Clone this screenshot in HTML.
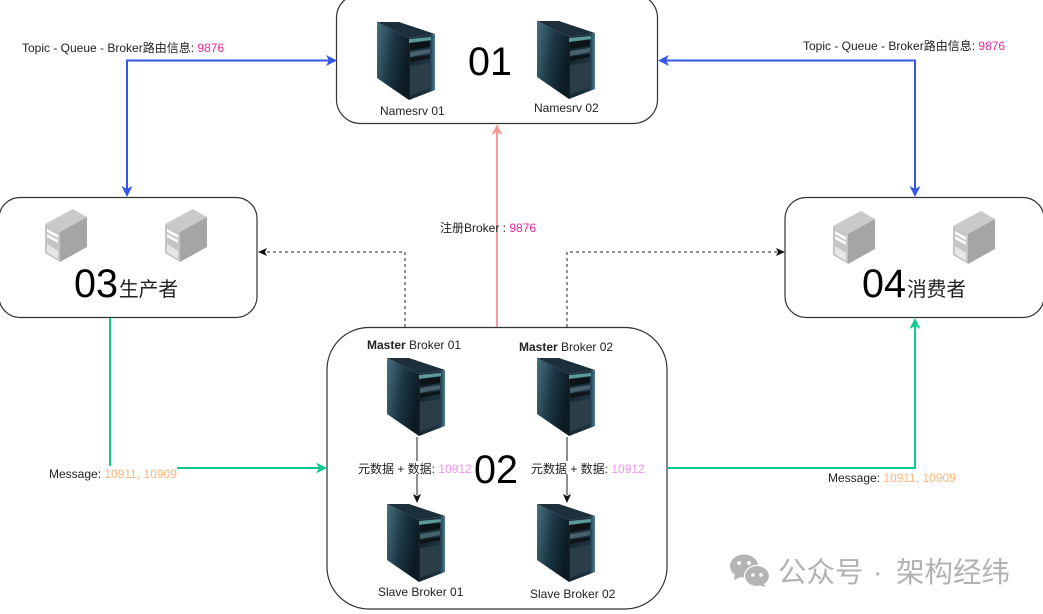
<!DOCTYPE html>
<html><head><meta charset="utf-8"><style>
html,body{margin:0;padding:0;background:#fff;width:1043px;height:614px;overflow:hidden}
svg{display:block;filter:blur(0.3px)}
text{font-family:"Liberation Sans","Noto Sans CJK SC",sans-serif;fill:#222}
.s{font-size:12px}
.big{font-size:39.500px;fill:#000}
.cn{font-size:19.700px}
.wm{font-size:28.500px;fill:#b2b2b2}
</style></head><body>
<svg width="1043" height="614" viewBox="0 0 1043 614" xmlns="http://www.w3.org/2000/svg">
<defs>
<linearGradient id="l" x1="0" y1="0" x2="1" y2="0.4"><stop offset="0" stop-color="#47707f"/><stop offset="0.55" stop-color="#1b3644"/><stop offset="1" stop-color="#0c1b23"/></linearGradient>
<linearGradient id="f" x1="0" y1="0" x2="1" y2="0"><stop offset="0" stop-color="#15262f"/><stop offset="0.8" stop-color="#1d3542"/><stop offset="1" stop-color="#4d7f92"/></linearGradient>
<g id="t">
<polygon points="0,0 22,0 58,12 32,16" fill="#1c2f3a"/>
<polygon points="0,0 32,16 32,78 0,56" fill="url(#l)"/>
<polygon points="32,16 58,12 58,68 32,78" fill="url(#f)"/>
<polygon points="32,17 54,15 54,18 32,21" fill="#5d9a9a"/>
<polygon points="33,21 53,19 53,25 33,28" fill="#0d1317"/>
<polygon points="33,30 53,27 53,31 33,35" fill="#48616c"/>
<polygon points="33,36 53,33 53,36 33,40" fill="#0d1317"/>
<polygon points="33,44 53,41 53,66 33,74" fill="#2b3d46"/>
</g>
<g id="g">
<polygon points="0,15 28,0 42,8 15,23" fill="#c9cbcb"/>
<polygon points="0,15 15,23 15,53 0,44" fill="#c4c6c6"/>
<polygon points="15,23 42,8 42,38 15,53" fill="#a3a5a6"/>
<polygon points="2,20 13,26 13,29 2,23" fill="#fff"/>
<polygon points="2,25 13,31 13,34 2,28" fill="#fff"/>
<polygon points="2,35 13,42 13,50 2,43" fill="#e6e7e7"/>
</g>
</defs>

<!-- boxes -->
<rect x="336.500" y="-6" width="321" height="129.500" rx="24" fill="#fff" stroke="#333" stroke-width="1.200"/>
<rect x="-1" y="197.500" width="258" height="120" rx="21" fill="#fff" stroke="#333" stroke-width="1.200"/>
<rect x="785" y="197.500" width="259" height="120" rx="21" fill="#fff" stroke="#333" stroke-width="1.200"/>
<rect x="327" y="327.500" width="340" height="281.500" rx="42" fill="#fff" stroke="#333" stroke-width="1.200"/>

<!-- connectors -->
<g fill="none" stroke-width="2">
<path d="M330 60.500H127V190" stroke="#3355e8"/>
<path d="M665 60.500H915V190" stroke="#3355e8"/>
<path d="M497 327V131" stroke="#f99a9a"/>
<path d="M110 318V466" stroke="#10c98f"/>
<path d="M177 468H320" stroke="#10c98f"/>
<path d="M667 468H915V325" stroke="#10c98f"/>
<path d="M417 437V461M417 474V495" stroke="#444" stroke-width="1.200"/>
<path d="M567 437V461M567 474V495" stroke="#444" stroke-width="1.200"/>
<path d="M405 327V252H265" stroke="#222" stroke-width="1" stroke-dasharray="3 3"/>
<path d="M567 327V252H778" stroke="#222" stroke-width="1" stroke-dasharray="3 3"/>
</g>
<!-- arrowheads -->
<polygon points="337,60.500 326,55 329,60.500 326,66" fill="#3355e8"/>
<polygon points="658,60.500 669,55 666,60.500 669,66" fill="#3355e8"/>
<polygon points="127,197 121.500,186 127,189 132.500,186" fill="#3355e8"/>
<polygon points="915,197 909.500,186 915,189 920.500,186" fill="#3355e8"/>
<polygon points="497,124 491.500,135 497,132 502.500,135" fill="#f99a9a"/>
<polygon points="327,468 316,462.500 319,468 316,473.500" fill="#10c98f"/>
<polygon points="915,318 909.500,329 915,326 920.500,329" fill="#10c98f"/>
<polygon points="258,252 267,248 265,252 267,256" fill="#111"/>
<polygon points="785,252 776,248 778,252 776,256" fill="#111"/>
<polygon points="417,503 413,494 417,496 421,494" fill="#111"/>
<polygon points="567,503 563,494 567,496 571,494" fill="#111"/>

<!-- servers -->
<use href="#t" x="377" y="22"/>
<use href="#t" x="537" y="21"/>
<use href="#t" x="387" y="358"/>
<use href="#t" x="537" y="358"/>
<use href="#t" x="387" y="504"/>
<use href="#t" x="537" y="504"/>
<use href="#g" x="45" y="209"/>
<use href="#g" x="165" y="209"/>
<use href="#g" x="833" y="211"/>
<use href="#g" x="953" y="211"/>

<!-- box titles -->
<text class="big" x="468" y="75">01</text>
<text class="big" x="474" y="483">02</text>
<text class="big" x="74" y="297">03</text>
<text class="cn" x="119" y="296">生产者</text>
<text class="big" x="862" y="297">04</text>
<text class="cn" x="907" y="296">消费者</text>

<!-- labels -->
<text class="s" x="380" y="115">Namesrv 01</text>
<text class="s" x="534" y="112">Namesrv 02</text>
<text class="s" x="367" y="349"><tspan font-weight="bold">Master</tspan> Broker 01</text>
<text class="s" x="519" y="351"><tspan font-weight="bold">Master</tspan> Broker 02</text>
<text class="s" x="378" y="596">Slave Broker 01</text>
<text class="s" x="530" y="598">Slave Broker 02</text>
<text class="s" x="358" y="473">元数据 + 数据: <tspan style="fill:#f38ff0">10912</tspan></text>
<text class="s" x="531" y="473">元数据 + 数据: <tspan style="fill:#f38ff0">10912</tspan></text>
<text class="s" x="22" y="52">Topic - Queue - Broker路由信息: <tspan style="fill:#f0289a">9876</tspan></text>
<text class="s" x="803" y="50">Topic - Queue - Broker路由信息: <tspan style="fill:#f0289a">9876</tspan></text>
<text class="s" x="440" y="232">注册Broker : <tspan style="fill:#f0289a">9876</tspan></text>
<text class="s" x="49" y="478">Message: <tspan style="fill:#fbb57c">10911, 10909</tspan></text>
<text class="s" x="828" y="482">Message: <tspan style="fill:#fbb57c">10911, 10909</tspan></text>

<!-- watermark -->
<g fill="#b4b4b4">
<ellipse cx="744" cy="566" rx="14" ry="11.500"/>
<polygon points="735,573 734,580 743,576"/>
<ellipse cx="757" cy="576" rx="12.500" ry="10.500" stroke="#fff" stroke-width="1.200"/>
<polygon points="763,583 766,587 758,585"/>
</g>
<g fill="#fff">
<circle cx="739" cy="563" r="2"/><circle cx="749" cy="563" r="2"/>
<circle cx="753" cy="575" r="1.700"/><circle cx="761" cy="575" r="1.700"/>
</g>
<text class="wm" x="778" y="582">公众号</text>
<text class="wm" x="873" y="582">·</text>
<text class="wm" x="896" y="582">架构经纬</text>
</svg>
</body></html>
